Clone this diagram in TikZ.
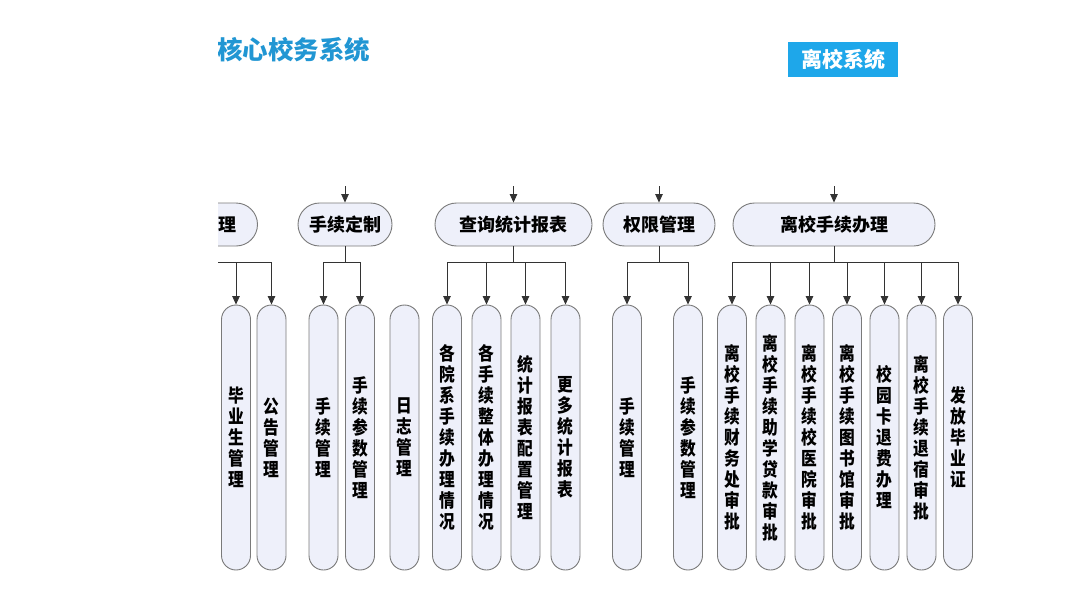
\documentclass[tikz,border=0pt]{standalone}
\usepackage{fontspec}
\newfontfamily\cjk{Noto Sans CJK SC}
\newfontfamily\cjkc{Noto Sans CJK SC}[FakeStretch=0.85]
\usetikzlibrary{arrows.meta}
\definecolor{ttl}{HTML}{2196D3}
\definecolor{boxblue}{HTML}{1EA7EA}
\definecolor{nfill}{HTML}{EEF0FA}
\definecolor{nline}{HTML}{7A7A7A}
\tikzset{
  hdr/.style={draw=nline, fill=nfill, line width=0.9pt, rounded corners=21.5pt,
    minimum height=43pt, inner sep=0pt, font=\cjk\bfseries\fontsize{18}{20}\selectfont},
  col/.style={draw=nline, fill=nfill, line width=0.9pt, rounded corners=14.5pt,
    minimum width=29pt, minimum height=265pt, inner sep=0pt, align=center,
    font=\cjkc\bfseries\fontsize{18.5}{21}\selectfont},
  conn/.style={draw=black!80, line width=0.8pt},
  arr/.style={conn, -{Triangle[width=7.5pt,length=8.5pt]}},
}
\begin{document}
\begin{tikzpicture}[x=1pt,y=-1pt]
\useasboundingbox (0,0) rectangle (1080,608);
\fill[white] (0,0) rectangle (1080,608);
\clip (218,0) rectangle (1080,608);

% titles
\node[anchor=west, inner sep=0pt, text=ttl, font=\cjk\bfseries\fontsize{25.5}{26}\selectfont] (title) at (217,50) {核心校务系统};
\node[fill=boxblue, text=white, minimum width=110pt, minimum height=35pt, inner sep=0pt,
      font=\cjk\bfseries\fontsize{21}{22}\selectfont] (lx) at (843,59.5) {离校系统};

% header nodes
\node[hdr, minimum width=120pt] (hA) at (197.5,224.5) {\makebox[120pt][r]{理\hspace{21pt}}};
\node[hdr, minimum width=94pt]  (hB) at (345,224.5) {手续定制};
\node[hdr, minimum width=157pt] (hC) at (513.5,224.5) {查询统计报表};
\node[hdr, minimum width=112pt] (hD) at (659,224.5) {权限管理};
\node[hdr, minimum width=202pt] (hE) at (834,224.5) {离校手续办理};

% incoming stubs
\coordinate (tB) at (345,186);
\coordinate (tC) at (513.5,186);
\coordinate (tD) at (659,186);
\coordinate (tE) at (834,186);
\foreach \t/\h in {tB/hB,tC/hC,tD/hD,tE/hE}
  \draw[arr] (\t) -- (\h.north);

% columns
\def\cy{437.5}
\node[col] (cA1) at (236,\cy) {毕\\业\\生\\管\\理};
\node[col] (cA2) at (271.5,\cy) {公\\告\\管\\理};
\node[col] (cB1) at (323.5,\cy) {手\\续\\管\\理};
\node[col] (cB2) at (360,\cy) {手\\续\\参\\数\\管\\理};
\node[col] (cL)  at (404.5,\cy) {日\\志\\管\\理};
\node[col] (cC1) at (447,\cy) {各\\院\\系\\手\\续\\办\\理\\情\\况};
\node[col] (cC2) at (486.5,\cy) {各\\手\\续\\整\\体\\办\\理\\情\\况};
\node[col] (cC3) at (525.5,\cy) {统\\计\\报\\表\\配\\置\\管\\理};
\node[col] (cC4) at (565.5,\cy) {更\\多\\统\\计\\报\\表};
\node[col] (cD1) at (627,\cy) {手\\续\\管\\理};
\node[col] (cD2) at (688,\cy) {手\\续\\参\\数\\管\\理};
\node[col] (cE1) at (732,\cy) {离\\校\\手\\续\\财\\务\\处\\审\\批};
\node[col] (cE2) at (770.5,\cy) {离\\校\\手\\续\\助\\学\\贷\\款\\审\\批};
\node[col] (cE3) at (809.5,\cy) {离\\校\\手\\续\\校\\医\\院\\审\\批};
\node[col] (cE4) at (847,\cy) {离\\校\\手\\续\\图\\书\\馆\\审\\批};
\node[col] (cE5) at (884.5,\cy) {校\\园\\卡\\退\\费\\办\\理};
\node[col] (cE6) at (921.5,\cy) {离\\校\\手\\续\\退\\宿\\审\\批};
\node[col] (cE7) at (958,\cy) {发\\放\\毕\\业\\证};

% branch connectors
\foreach \p/\c in {hA/cA1,hA/cA2,hB/cB1,hB/cB2,hC/cC1,hC/cC2,hC/cC3,hC/cC4,
                   hD/cD1,hD/cD2,hE/cE1,hE/cE2,hE/cE3,hE/cE4,hE/cE5,hE/cE6,hE/cE7}
  \draw[arr] (\p.south) -- ++(0,16) -| (\c.north);
\end{tikzpicture}
\end{document}
